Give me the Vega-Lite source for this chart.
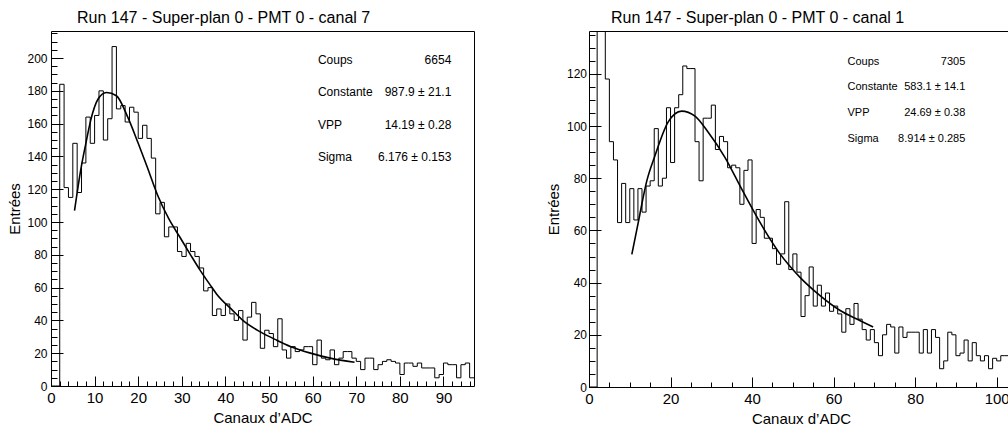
{
 "$schema": "https://vega.github.io/schema/vega-lite/v6.json",
 "padding": {"left": 6, "top": 9, "right": 0, "bottom": 0},
 "background": "white",
 "config": {
  "font": "Liberation Sans",
  "view": {"stroke": "black", "strokeWidth": 1},
  "axis": {"grid": false, "domain": false, "labelColor": "black", "titleColor": "black", "tickColor": "black", "tickWidth": 1, "labelFont": "Liberation Sans", "titleFont": "Liberation Sans", "titleFontWeight": "normal", "labelOverlap": false},
  "title": {"font": "Liberation Sans", "fontSize": 16, "fontWeight": "normal", "color": "black", "anchor": "start", "frame": "group"}
 },
 "datasets": {
  "h7": [
   {"ch":0,"n":0},{"ch":1,"n":0},{"ch":2,"n":184},{"ch":3,"n":121},{"ch":4,"n":115},{"ch":5,"n":148},{"ch":6,"n":118},{"ch":7,"n":136},{"ch":8,"n":164},{"ch":9,"n":148},
   {"ch":10,"n":165},{"ch":11,"n":180},{"ch":12,"n":150},{"ch":13,"n":163},{"ch":14,"n":207},{"ch":15,"n":169},{"ch":16,"n":171},{"ch":17,"n":161},{"ch":18,"n":170},{"ch":19,"n":167},
   {"ch":20,"n":151},{"ch":21,"n":159},{"ch":22,"n":151},{"ch":23,"n":139},{"ch":24,"n":105},{"ch":25,"n":112},{"ch":26,"n":91},{"ch":27,"n":97},{"ch":28,"n":97},{"ch":29,"n":82},
   {"ch":30,"n":79},{"ch":31,"n":87},{"ch":32,"n":82},{"ch":33,"n":79},{"ch":34,"n":72},{"ch":35,"n":58},{"ch":36,"n":60},{"ch":37,"n":43},{"ch":38,"n":47},{"ch":39,"n":43},
   {"ch":40,"n":50},{"ch":41,"n":44},{"ch":42,"n":40},{"ch":43,"n":46},{"ch":44,"n":28},{"ch":45,"n":42},{"ch":46,"n":51},{"ch":47,"n":44},{"ch":48,"n":23},{"ch":49,"n":34},
   {"ch":50,"n":32},{"ch":51,"n":24},{"ch":52,"n":41},{"ch":53,"n":22},{"ch":54,"n":17},{"ch":55,"n":24},{"ch":56,"n":21},{"ch":57,"n":22},{"ch":58,"n":24},{"ch":59,"n":24},
   {"ch":60,"n":13},{"ch":61,"n":28},{"ch":62,"n":17},{"ch":63,"n":16},{"ch":64,"n":22},{"ch":65,"n":13},{"ch":66,"n":17},{"ch":67,"n":21},{"ch":68,"n":21},{"ch":69,"n":17},
   {"ch":70,"n":15},{"ch":71,"n":10},{"ch":72,"n":17},{"ch":73,"n":17},{"ch":74,"n":10},{"ch":75,"n":13},{"ch":76,"n":15},{"ch":77,"n":16},{"ch":78,"n":15},{"ch":79,"n":14},
   {"ch":80,"n":7},{"ch":81,"n":14},{"ch":82,"n":14},{"ch":83,"n":12},{"ch":84,"n":14},{"ch":85,"n":11},{"ch":86,"n":11},{"ch":87,"n":11},{"ch":88,"n":5},{"ch":89,"n":7},
   {"ch":90,"n":14},{"ch":91,"n":13},{"ch":92,"n":13},{"ch":93,"n":5},{"ch":94,"n":13},{"ch":95,"n":14},{"ch":96,"n":5},{"ch":97,"n":5}
  ],
  "f7": [
   {"ch":5.4,"n":107},{"ch":6.9,"n":133},{"ch":8,"n":148},{"ch":9.1,"n":162},{"ch":10.8,"n":175},{"ch":12.7,"n":179},{"ch":15,"n":177},{"ch":17.6,"n":164},{"ch":20,"n":148},
   {"ch":22,"n":134},{"ch":24.5,"n":116},{"ch":27,"n":102},{"ch":29.5,"n":91},{"ch":32,"n":80},{"ch":34.1,"n":71},{"ch":36.4,"n":62},{"ch":38,"n":56},{"ch":41.7,"n":46},
   {"ch":44,"n":40},{"ch":48,"n":33},{"ch":51.7,"n":28},{"ch":55,"n":24},{"ch":59.3,"n":20.2},{"ch":64,"n":17},{"ch":69.6,"n":14.5}
  ],
  "s7": [
   {"line":1,"label":"Coups","val":"6654"},
   {"line":2,"label":"Constante","val":"987.9 ± 21.1"},
   {"line":3,"label":"VPP","val":"14.19 ± 0.28"},
   {"line":4,"label":"Sigma","val":"6.176 ± 0.153"}
  ],
  "h1": [
   {"ch":0,"n":0},{"ch":1,"n":0},{"ch":2,"n":170},{"ch":3,"n":145},{"ch":4,"n":118},{"ch":5,"n":94},{"ch":6,"n":87},{"ch":7,"n":63},{"ch":8,"n":78},{"ch":9,"n":63},
   {"ch":10,"n":76},{"ch":11,"n":64},{"ch":12,"n":76},{"ch":13,"n":67},{"ch":14,"n":77},{"ch":15,"n":79},{"ch":16,"n":99},{"ch":17,"n":77},{"ch":18,"n":80},{"ch":19,"n":107},
   {"ch":20,"n":86},{"ch":21,"n":107},{"ch":22,"n":112},{"ch":23,"n":123},{"ch":24,"n":122},{"ch":25,"n":122},{"ch":26,"n":94},{"ch":27,"n":79},{"ch":28,"n":103},{"ch":29,"n":103},
   {"ch":30,"n":108},{"ch":31,"n":91},{"ch":32,"n":96},{"ch":33,"n":94},{"ch":34,"n":84},{"ch":35,"n":85},{"ch":36,"n":84},{"ch":37,"n":70},{"ch":38,"n":83},{"ch":39,"n":87},
   {"ch":40,"n":55},{"ch":41,"n":68},{"ch":42,"n":65},{"ch":43,"n":57},{"ch":44,"n":57},{"ch":45,"n":53},{"ch":46,"n":47},{"ch":47,"n":51},{"ch":48,"n":71},{"ch":49,"n":45},
   {"ch":50,"n":51},{"ch":51,"n":44},{"ch":52,"n":27},{"ch":53,"n":35},{"ch":54,"n":46},{"ch":55,"n":31},{"ch":56,"n":39},{"ch":57,"n":31},{"ch":58,"n":36},{"ch":59,"n":29},
   {"ch":60,"n":31},{"ch":61,"n":28},{"ch":62,"n":21},{"ch":63,"n":30},{"ch":64,"n":24},{"ch":65,"n":32},{"ch":66,"n":26},{"ch":67,"n":22},{"ch":68,"n":18},{"ch":69,"n":22},
   {"ch":70,"n":17},{"ch":71,"n":12},{"ch":72,"n":20},{"ch":73,"n":24},{"ch":74,"n":23},{"ch":75,"n":13},{"ch":76,"n":23},{"ch":77,"n":19},{"ch":78,"n":21},{"ch":79,"n":21},
   {"ch":80,"n":21},{"ch":81,"n":13},{"ch":82,"n":22},{"ch":83,"n":13},{"ch":84,"n":22},{"ch":85,"n":19},{"ch":86,"n":7},{"ch":87,"n":10},{"ch":88,"n":21},{"ch":89,"n":20},
   {"ch":90,"n":12},{"ch":91,"n":13},{"ch":92,"n":18},{"ch":93,"n":10},{"ch":94,"n":17},{"ch":95,"n":12},{"ch":96,"n":10},{"ch":97,"n":12},{"ch":98,"n":7},{"ch":99,"n":11},
   {"ch":100,"n":10},{"ch":101,"n":12},{"ch":102,"n":12},{"ch":103,"n":12},{"ch":104,"n":12}
  ],
  "f1": [
   {"ch":10.5,"n":50.8},{"ch":12.1,"n":63.2},{"ch":14.1,"n":78.5},{"ch":16.2,"n":88.7},{"ch":19.4,"n":101.5},{"ch":22.7,"n":105.7},{"ch":26,"n":103.8},{"ch":29.2,"n":97.7},
   {"ch":33.3,"n":88.1},{"ch":37.4,"n":76},{"ch":40.7,"n":66.5},{"ch":43.1,"n":60},{"ch":46.8,"n":51.1},{"ch":51.7,"n":42.1},{"ch":56.6,"n":35.1},{"ch":61.5,"n":29.4},
   {"ch":66.4,"n":25.5},{"ch":69.7,"n":23}
  ],
  "s1": [
   {"line":1,"label":"Coups","val":"7305"},
   {"line":2,"label":"Constante","val":"583.1 ± 14.1"},
   {"line":3,"label":"VPP","val":"24.69 ± 0.38"},
   {"line":4,"label":"Sigma","val":"8.914 ± 0.285"}
  ]
 },
 "spacing": 70,
 "hconcat": [
  {
   "title": {"text": "Run 147 - Super-plan 0 - PMT 0 - canal 7", "dx": 26, "offset": 5},
   "width": 423,
   "height": 355,
   "resolve": {"scale": {"x": "independent", "y": "independent"}, "axis": {"x": "independent", "y": "independent"}},
   "layer": [
    {
     "data": {"name": "h7"},
     "mark": {"type": "line", "interpolate": "step-after", "color": "black", "strokeWidth": 1, "clip": true},
     "encoding": {
      "x": {"field": "ch", "type": "quantitative", "scale": {"domain": [0, 97], "nice": false, "zero": false},
            "axis": {"orient": "bottom", "values": [0,10,20,30,40,50,60,70,80,90], "tickSize": -10, "labelPadding": 14, "labelFontSize": 15, "labelFlush": false, "title": "Canaux d’ADC", "titleFontSize": 15, "titlePadding": 5}},
      "y": {"field": "n", "type": "quantitative", "scale": {"domain": [0, 216.5], "nice": false, "zero": false},
            "axis": {"orient": "left", "values": [0,20,40,60,80,100,120,140,160,180,200], "tickSize": -12, "labelPadding": 16, "labelFontSize": 12, "title": "Entrées", "titleFontSize": 15, "titlePadding": 4.5}}
     }
    },
    {
     "data": {"name": "f7"},
     "mark": {"type": "line", "interpolate": "monotone", "color": "black", "strokeWidth": 1.6},
     "encoding": {
      "x": {"field": "ch", "type": "quantitative", "scale": {"domain": [0, 97], "nice": false, "zero": false},
            "axis": {"orient": "bottom", "values": [0,2,4,6,8,10,12,14,16,18,20,22,24,26,28,30,32,34,36,38,40,42,44,46,48,50,52,54,56,58,60,62,64,66,68,70,72,74,76,78,80,82,84,86,88,90,92,94,96], "tickSize": -5, "labels": false, "title": null}},
      "y": {"field": "n", "type": "quantitative", "scale": {"domain": [0, 216.5], "nice": false, "zero": false},
            "axis": {"orient": "left", "values": [0,5,10,15,20,25,30,35,40,45,50,55,60,65,70,75,80,85,90,95,100,105,110,115,120,125,130,135,140,145,150,155,160,165,170,175,180,185,190,195,200,205,210,215], "tickSize": -6, "labels": false, "title": null}}
     }
    },
    {
     "data": {"name": "s7"},
     "mark": {"type": "text", "align": "left", "baseline": "middle", "fontSize": 12, "color": "black", "font": "Liberation Sans"},
     "encoding": {
      "x": {"datum": 61.2, "type": "quantitative", "scale": {"domain": [0, 97], "nice": false, "zero": false}, "axis": null},
      "y": {"field": "line", "type": "quantitative", "scale": {"domain": [0.1, 11.1], "reverse": true, "nice": false, "zero": false}, "axis": null},
      "text": {"field": "label"}
     }
    },
    {
     "data": {"name": "s7"},
     "mark": {"type": "text", "align": "right", "baseline": "middle", "fontSize": 12, "color": "black", "font": "Liberation Sans"},
     "encoding": {
      "x": {"datum": 91.8, "type": "quantitative", "scale": {"domain": [0, 97], "nice": false, "zero": false}, "axis": null},
      "y": {"field": "line", "type": "quantitative", "scale": {"domain": [0.1, 11.1], "reverse": true, "nice": false, "zero": false}, "axis": null},
      "text": {"field": "val"}
     }
    }
   ]
  },
  {
   "title": {"text": "Run 147 - Super-plan 0 - PMT 0 - canal 1", "dx": 22, "offset": 5},
   "width": 424,
   "height": 356,
   "resolve": {"scale": {"x": "independent", "y": "independent"}, "axis": {"x": "independent", "y": "independent"}},
   "layer": [
    {
     "data": {"name": "h1"},
     "mark": {"type": "line", "interpolate": "step-after", "color": "black", "strokeWidth": 1, "clip": true},
     "encoding": {
      "x": {"field": "ch", "type": "quantitative", "scale": {"domain": [0, 104], "nice": false, "zero": false},
            "axis": {"orient": "bottom", "values": [0,20,40,60,80,100], "tickSize": -10, "labelPadding": 14, "labelFontSize": 15, "labelFlush": false, "title": "Canaux d’ADC", "titleFontSize": 15, "titlePadding": 5}},
      "y": {"field": "n", "type": "quantitative", "scale": {"domain": [0, 136.4], "nice": false, "zero": false},
            "axis": {"orient": "left", "values": [0,20,40,60,80,100,120], "tickSize": -12, "labelPadding": 14.5, "labelFontSize": 12, "title": "Entrées", "titleFontSize": 15, "titlePadding": 5}}
     }
    },
    {
     "data": {"name": "f1"},
     "mark": {"type": "line", "interpolate": "monotone", "color": "black", "strokeWidth": 1.6},
     "encoding": {
      "x": {"field": "ch", "type": "quantitative", "scale": {"domain": [0, 104], "nice": false, "zero": false},
            "axis": {"orient": "bottom", "values": [0,5,10,15,20,25,30,35,40,45,50,55,60,65,70,75,80,85,90,95,100], "tickSize": -5, "labels": false, "title": null}},
      "y": {"field": "n", "type": "quantitative", "scale": {"domain": [0, 136.4], "nice": false, "zero": false},
            "axis": {"orient": "left", "values": [0,5,10,15,20,25,30,35,40,45,50,55,60,65,70,75,80,85,90,95,100,105,110,115,120,125,130,135], "tickSize": -6, "labels": false, "title": null}}
     }
    },
    {
     "data": {"name": "s1"},
     "mark": {"type": "text", "align": "left", "baseline": "middle", "fontSize": 11, "color": "black", "font": "Liberation Sans"},
     "encoding": {
      "x": {"datum": 63.4, "type": "quantitative", "scale": {"domain": [0, 104], "nice": false, "zero": false}, "axis": null},
      "y": {"field": "line", "type": "quantitative", "scale": {"domain": [-0.19, 13.66], "reverse": true, "nice": false, "zero": false}, "axis": null},
      "text": {"field": "label"}
     }
    },
    {
     "data": {"name": "s1"},
     "mark": {"type": "text", "align": "right", "baseline": "middle", "fontSize": 11, "color": "black", "font": "Liberation Sans"},
     "encoding": {
      "x": {"datum": 92.3, "type": "quantitative", "scale": {"domain": [0, 104], "nice": false, "zero": false}, "axis": null},
      "y": {"field": "line", "type": "quantitative", "scale": {"domain": [-0.19, 13.66], "reverse": true, "nice": false, "zero": false}, "axis": null},
      "text": {"field": "val"}
     }
    }
   ]
  }
 ]
}
